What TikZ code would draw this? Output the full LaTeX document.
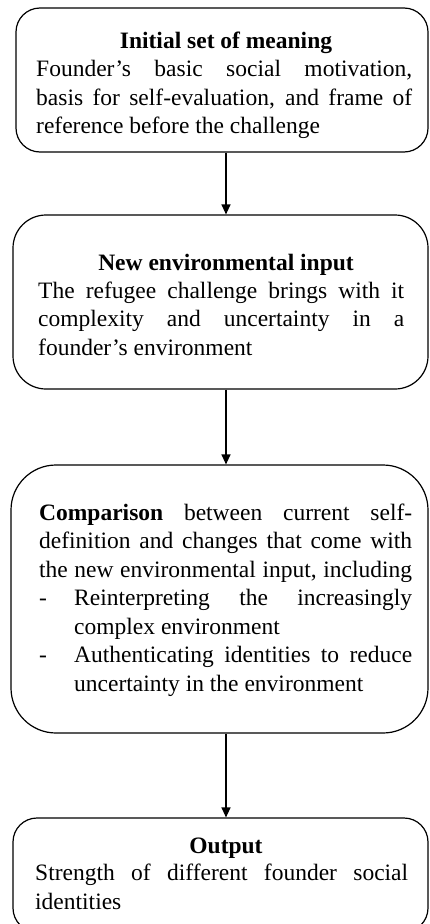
\documentclass[tikz,border=0pt]{standalone}
\usepackage{fontspec}
\setmainfont{Liberation Serif}
\usetikzlibrary{arrows.meta}
\tikzset{
  boxshape/.style={draw, line width=1.2pt, rectangle, inner sep=0pt},
  txt/.style={anchor=base west, inner sep=0pt, font=\fontsize{23.5pt}{28.5pt}\selectfont},
  ttl/.style={anchor=base, inner sep=0pt, font=\fontsize{23.5pt}{28.5pt}\selectfont\bfseries},
  arr/.style={line width=1.2pt, -{Triangle[length=10pt,width=9pt]}},
}
\newcommand{\jline}[2]{\makebox[#1][s]{#2}}
\begin{document}
\begin{tikzpicture}[x=1pt,y=-1pt]
\useasboundingbox (0,0) rectangle (429,924);
\clip (0,0) rectangle (429,924);
\coordinate (ax) at (226,0);

% Box 1
\node[boxshape, rounded corners=24pt, minimum width=412pt, minimum height=144pt] (b1) at (222,80) {};
\node[ttl] (h1) at (226,48.5) {Initial set of meaning};
\node[txt] (t1) at (36,76.5) {\parbox[t]{376pt}{%
\jline{376pt}{Founder’s basic social motivation,}\\
\jline{376pt}{basis for self-evaluation, and frame of}\\
reference before the challenge}};

% Box 2
\node[boxshape, rounded corners=33pt, minimum width=415pt, minimum height=174pt] (b2) at (220.5,302) {};
\node[ttl] (h2) at (226,270.5) {New environmental input};
\node[txt] (t2) at (38,298) {\parbox[t]{366pt}{%
\jline{366pt}{The refugee challenge brings with it}\\
\jline{366pt}{complexity and uncertainty in a}\\
founder’s environment}};

% Box 3
\node[boxshape, rounded corners=45pt, minimum width=417pt, minimum height=268pt] (b3) at (219.5,599) {};
\node[txt] (t3) at (39,520) {\parbox[t]{373pt}{%
\jline{373pt}{\textbf{Comparison} between current self-}\\
\jline{373pt}{definition and changes that come with}\\
\jline{373pt}{the new environmental input, including}\\
\makebox[35pt][l]{-}\jline{338pt}{Reinterpreting the increasingly}\\
\hspace*{35pt}complex environment\\
\makebox[35pt][l]{-}\jline{338pt}{Authenticating identities to reduce}\\
\hspace*{35pt}uncertainty in the environment}};

% Box 4
\node[boxshape, rounded corners=24pt, minimum width=415pt, minimum height=114pt] (b4) at (220.5,875) {};
\node[ttl] (h4) at (226,853) {Output};
\node[txt] (t4) at (35,880.5) {\parbox[t]{373pt}{%
\jline{373pt}{Strength of different founder social}\\
identities}};

% Connectors
\draw[arr] (b1.south -| ax) -- (b2.north -| ax);
\draw[arr] (b2.south -| ax) -- (b3.north -| ax);
\draw[arr] (b3.south -| ax) -- (b4.north -| ax);
\end{tikzpicture}
\end{document}
